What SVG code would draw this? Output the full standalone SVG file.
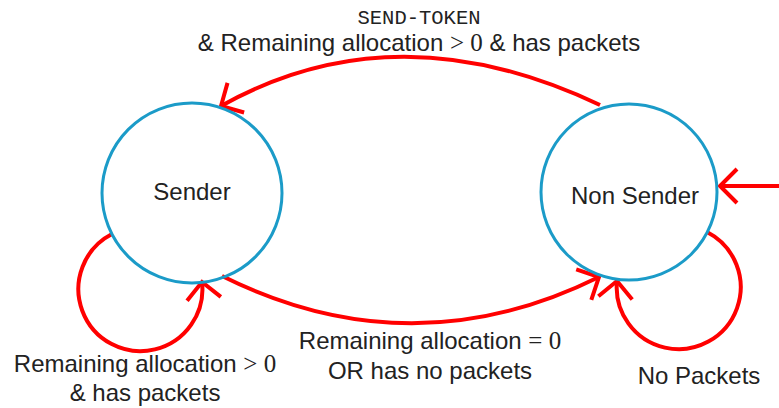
<svg xmlns="http://www.w3.org/2000/svg" width="779" height="408" viewBox="0 0 779 408">
<style>
.state{fill:none;stroke:#1b9bc8;stroke-width:3}
.edge{fill:none;stroke:#ff0000;stroke-width:4}
.lbl{font-family:"Liberation Sans",Arial,sans-serif;font-size:24px;fill:#222;text-anchor:middle}
.math{font-family:"Liberation Serif","Times New Roman",serif;font-size:25px}
.mono{font-family:"Liberation Mono","Courier New",monospace;font-size:20.5px;fill:#222;text-anchor:middle}
</style>
<defs>
<marker id="arr" markerUnits="userSpaceOnUse" viewBox="-20 -20 24 40" markerWidth="24" markerHeight="40" refX="0" refY="0" orient="auto" overflow="visible">
<path d="M -17,-17 L 0,0 L -17,17" fill="none" stroke="#ff0000" stroke-width="4"/>
</marker>
</defs>
<rect width="779" height="408" fill="#fff"/>
<g id="connectors">
<path class="edge" d="M 600,105 Q 396,8 221,106" marker-end="url(#arr)"/>
<path class="edge" d="M 112,234 A 62,62 0 1 0 202,282" marker-end="url(#arr)"/>
<path class="edge" d="M 222,276 Q 411,370 599,277" marker-end="url(#arr)"/>
<path class="edge" d="M 707,232 A 62,62 0 1 1 617,281" marker-end="url(#arr)"/>
<path class="edge" d="M 779,186 L 720,186" marker-end="url(#arr)"/>
</g>
<g id="sender">
<circle class="state" cx="192" cy="193" r="90"/>
<text class="lbl" x="192" y="200">Sender</text>
</g>
<g id="non-sender">
<circle class="state" cx="629" cy="192" r="88"/>
<text class="lbl" x="635" y="204">Non Sender</text>
</g>
<g id="labels">
<text class="mono" x="419" y="24">SEND-TOKEN</text>
<text class="lbl" x="419" y="51">&amp; Remaining allocation <tspan class="math">&gt; 0</tspan> &amp; has packets</text>
<text class="lbl" x="145" y="372">Remaining allocation <tspan class="math">&gt; 0</tspan></text>
<text class="lbl" x="145" y="401">&amp; has packets</text>
<text class="lbl" x="430" y="349">Remaining allocation <tspan class="math">= 0</tspan></text>
<text class="lbl" x="430" y="379">OR has no packets</text>
<text class="lbl" x="699" y="384">No Packets</text>
</g>
</svg>
